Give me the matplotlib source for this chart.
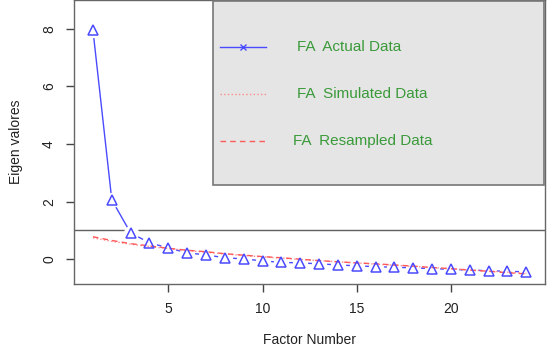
import matplotlib.pyplot as plt
from matplotlib.patches import Rectangle

# Parallel analysis scree plot (eigen values per factor)
factors = list(range(1, 25))
actual = [7.95, 2.06, 0.91, 0.57, 0.39, 0.22, 0.15, 0.05, 0.01, -0.06, -0.11, -0.13,
          -0.16, -0.20, -0.23, -0.26, -0.28, -0.30, -0.33, -0.35, -0.38, -0.40, -0.42, -0.44]
resampled = [0.78, 0.65, 0.54, 0.46, 0.38, 0.31, 0.26, 0.19, 0.14, 0.09, 0.05, 0.00,
             -0.05, -0.09, -0.13, -0.16, -0.20, -0.24, -0.29, -0.33, -0.38, -0.42, -0.47, -0.51]
simulated = [0.74, 0.62, 0.52, 0.44, 0.37, 0.30, 0.24, 0.18, 0.13, 0.08, 0.04, -0.01,
             -0.05, -0.09, -0.13, -0.17, -0.21, -0.25, -0.29, -0.33, -0.37, -0.41, -0.45, -0.49]
legend_labels = ["FA  Actual Data", "FA  Simulated Data", "FA  Resampled Data"]

plt.rcParams['font.family'] = ['Liberation Sans', 'DejaVu Sans']

fig = plt.figure(figsize=(5.49, 3.51), dpi=100)
ax = fig.add_axes([0.135, 0.191, 0.858, 0.809])

blue = '#4a4aff'
red = '#ff5a5a'
green = '#3a9a3a'

# actual data, R type="b": line with gaps around the points
ax.plot(factors, actual, color=blue, lw=1, zorder=2)
ax.plot(factors, actual, ls='none', marker='o', ms=11, mfc='white', mec='none', zorder=3)
ax.plot(factors, simulated, color='#ff8a8a', lw=1, ls=':', zorder=3.5)
ax.plot(factors, resampled, color=red, lw=1, ls=(0, (4, 3)), zorder=3.6)
ax.plot(factors, actual, ls='none', marker='^', ms=7.5, mfc='none', mec=blue, mew=1.1, zorder=4)

ax.axhline(1, color='#606060', lw=1, zorder=1)

ax.set_xlim(0, 25)
ax.set_ylim(-0.86, 9.0)
ax.set_xticks([5, 10, 15, 20])
ax.set_yticks([0, 2, 4, 6, 8])
ax.tick_params(axis='both', length=6, width=1, color='#444444', labelcolor='#222222',
               labelsize=10, pad=7)
for lab in ax.get_yticklabels():
    lab.set_rotation(90)
    lab.set_va('center')
for s in ax.spines.values():
    s.set_color('#666666')
    s.set_linewidth(1)

ax.set_xlabel("Factor Number", fontsize=10, labelpad=12, color='#222222')
ax.set_ylabel("Eigen valores", fontsize=10, labelpad=14, color='#222222')

# legend box drawn like R's legend()
ax.add_patch(Rectangle((0.295, 0.349), 0.703, 0.648, transform=ax.transAxes,
                       facecolor='#e5e5e5', edgecolor='#777777', lw=1.2, zorder=5))
ly = [0.835, 0.669, 0.504]
ax.plot([0.31, 0.408], [ly[0], ly[0]], transform=ax.transAxes, color=blue, lw=1, zorder=6)
ax.plot([0.359], [ly[0]], transform=ax.transAxes, marker='x', ms=5, color=blue, zorder=6)
ax.plot([0.31, 0.408], [ly[1], ly[1]], transform=ax.transAxes, color='#ff8a8a', lw=1, ls=':', zorder=6)
ax.plot([0.31, 0.408], [ly[2], ly[2]], transform=ax.transAxes, color=red, lw=1, ls=(0, (4, 3)), zorder=6)
for y, lab, x in zip(ly, legend_labels, [0.473, 0.473, 0.465]):
    ax.text(x, y, lab, transform=ax.transAxes, color=green, fontsize=11, va='center', zorder=6)

fig.savefig("out.png", dpi=100)
